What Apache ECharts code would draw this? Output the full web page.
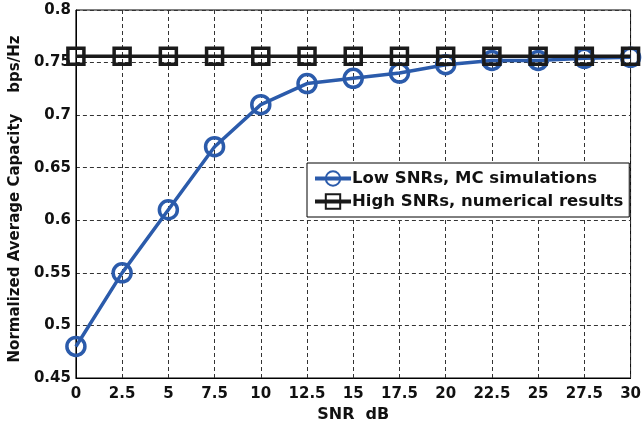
<!DOCTYPE html>
<html>
<head>
<meta charset="utf-8">
<script src="https://cdn.jsdelivr.net/npm/echarts@6/dist/echarts.min.js"></script>
<style>
  html, body { margin: 0; padding: 0; background: #fff; }
  #chart { width: 644px; height: 428px; }
</style>
</head>
<body>
<div id="chart"></div>
<script>
// SNR axis (dB)
const snrTicks = ['0', '2.5', '5', '7.5', '10', '12.5', '15', '17.5', '20', '22.5', '25', '27.5', '30'];
const snrValues = [0, 2.5, 5, 7.5, 10, 12.5, 15, 17.5, 20, 22.5, 25, 27.5, 30];
// Normalized average capacity (bps/Hz)
const lowSnrMC = [0.48, 0.55, 0.61, 0.67, 0.71, 0.73, 0.735, 0.74, 0.748, 0.752, 0.752, 0.754, 0.755];
const highSnrNumerical = [0.756, 0.756, 0.756, 0.756, 0.756, 0.756, 0.756, 0.756, 0.756, 0.756, 0.756, 0.756, 0.756];

const BLUE = '#2b5bab';
const DARK = '#1a1a1a';
const FONT = 'DejaVu Sans, Verdana, sans-serif';

const chart = echarts.init(document.getElementById('chart'), null, { renderer: 'canvas' });

const pairs = (ys) => snrValues.map((x, i) => [x, ys[i]]);

chart.setOption({
  animation: false,
  backgroundColor: '#fff',
  grid: {
    left: 73, right: 10, top: 10, bottom: 50,
    show: true, borderColor: '#000', borderWidth: 1
  },
  legend: {
    orient: 'vertical',
    left: 307, top: 163,
    padding: [7, 6, 7, 6],
    itemGap: 6,
    itemWidth: 36, itemHeight: 18,
    backgroundColor: '#fff',
    borderColor: '#000', borderWidth: 1,
    lineStyle: { width: 4 },
    textStyle: { fontFamily: FONT, fontWeight: 'bold', fontSize: 16.5, color: '#111', padding: [0, 0, 0, -4] },
    data: ['Low SNRs, MC simulations', 'High SNRs, numerical results']
  },
  xAxis: {
    type: 'value',
    min: 0, max: 30, interval: 2.5,
    name: 'SNR  dB',
    nameLocation: 'middle',
    nameGap: 28,
    nameTextStyle: { fontFamily: FONT, fontWeight: 'bold', fontSize: 16, color: '#111' },
    axisLine: { lineStyle: { color: '#000', width: 1 } },
    axisTick: { show: false },
    axisLabel: {
      fontFamily: FONT, fontWeight: 'bold', fontSize: 15, color: '#111', margin: 9,
      formatter: (v) => snrTicks[snrValues.indexOf(v)] ?? String(v)
    },
    splitLine: { show: true, lineStyle: { color: '#333', type: [4, 3], width: 1 } }
  },
  yAxis: {
    type: 'value',
    min: 0.45, max: 0.8, interval: 0.05,
    name: 'Normalized Average Capacity    bps/Hz',
    nameLocation: 'middle',
    nameGap: 50,
    nameTextStyle: { fontFamily: FONT, fontWeight: 'bold', fontSize: 15, color: '#111', padding: [0, 10, 0, 0] },
    axisLine: { show: true, lineStyle: { color: '#000', width: 1 } },
    axisTick: { show: false },
    axisLabel: {
      fontFamily: FONT, fontWeight: 'bold', fontSize: 15, color: '#111', margin: 5,
      formatter: (v) => String(parseFloat(v.toFixed(2)))
    },
    splitLine: { show: true, lineStyle: { color: '#333', type: [4, 3], width: 1 } }
  },
  series: [
    {
      name: 'Low SNRs, MC simulations',
      type: 'line',
      data: pairs(lowSnrMC),
      symbol: 'circle',
      symbolSize: 18,
      lineStyle: { color: BLUE, width: 3.5 },
      itemStyle: { color: 'rgba(0,0,0,0)', borderColor: BLUE, borderWidth: 3.5 },
      z: 2
    },
    {
      name: 'High SNRs, numerical results',
      type: 'line',
      data: pairs(highSnrNumerical),
      symbol: 'rect',
      symbolSize: 16,
      lineStyle: { color: DARK, width: 3.5 },
      itemStyle: { color: 'rgba(0,0,0,0)', borderColor: DARK, borderWidth: 3.5 },
      z: 3
    }
  ]
});
</script>
</body>
</html>
